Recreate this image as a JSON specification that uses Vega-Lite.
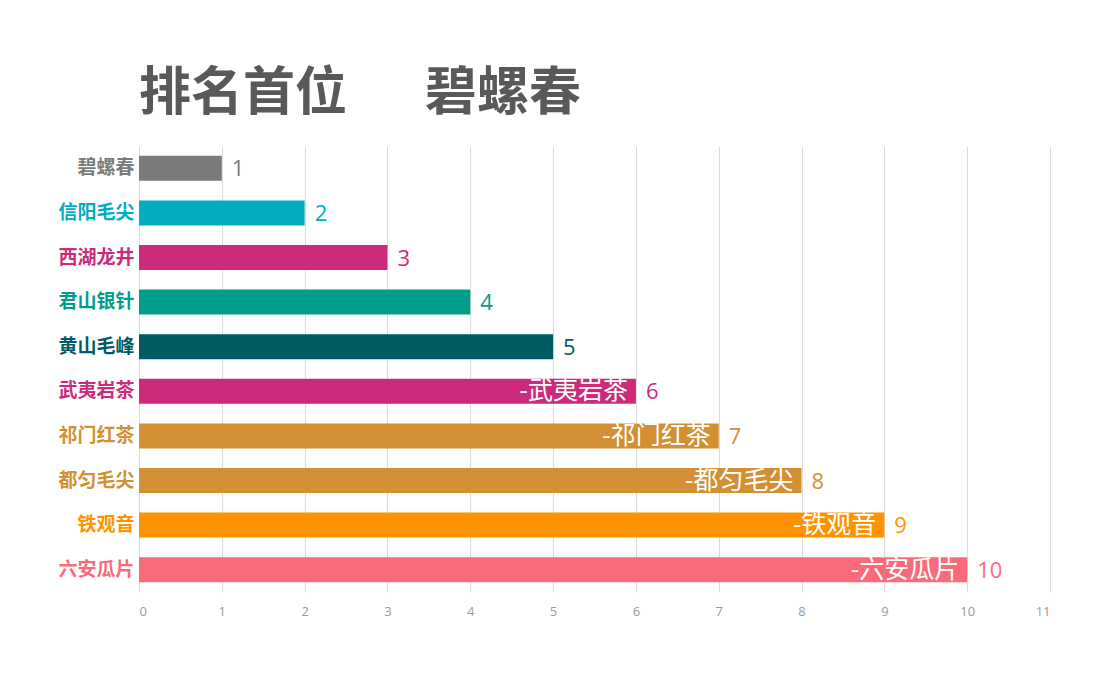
{
  "$schema": "https://vega.github.io/schema/vega-lite/v6.json",
  "width": 911,
  "height": 446,
  "autosize": {"type": "none"},
  "padding": {"left": 139, "top": 146, "right": 48, "bottom": 94},
  "background": "white",
  "title": {
    "text": "排名首位　\u2002碧螺春",
    "anchor": "start",
    "frame": "group",
    "font": "Noto Sans CJK SC",
    "fontSize": 52,
    "fontWeight": "bold",
    "color": "#595959",
    "offset": 25
  },
  "config": {"view": {"stroke": null}},
  "data": {
    "values": [
      {"name": "碧螺春", "value": 1, "tag": ""},
      {"name": "信阳毛尖", "value": 2, "tag": ""},
      {"name": "西湖龙井", "value": 3, "tag": ""},
      {"name": "君山银针", "value": 4, "tag": ""},
      {"name": "黄山毛峰", "value": 5, "tag": ""},
      {"name": "武夷岩茶", "value": 6, "tag": "-武夷岩茶"},
      {"name": "祁门红茶", "value": 7, "tag": "-祁门红茶"},
      {"name": "都匀毛尖", "value": 8, "tag": "-都匀毛尖"},
      {"name": "铁观音", "value": 9, "tag": "-铁观音"},
      {"name": "六安瓜片", "value": 10, "tag": "-六安瓜片"}
    ]
  },
  "encoding": {
    "y": {
      "field": "name",
      "type": "nominal",
      "sort": null,
      "title": null,
      "scale": {"paddingInner": 0.44, "paddingOuter": 0.22},
      "axis": {
        "domain": false,
        "ticks": false,
        "labelFont": "Noto Sans CJK SC",
        "labelFontWeight": "bold",
        "labelFontSize": 19,
        "labelPadding": 5,
        "labelColor": {"expr": "scale('color', datum.value)"}
      }
    },
    "x": {
      "field": "value",
      "type": "quantitative",
      "title": null,
      "scale": {"domain": [0, 11], "nice": false},
      "axis": {
        "values": [0, 1, 2, 3, 4, 5, 6, 7, 8, 9, 10, 11],
        "domain": false,
        "ticks": false,
        "gridColor": "#dcdcdc",
        "gridWidth": 1,
        "labelColor": "#9a9a9a",
        "labelFont": "Open Sans",
        "labelFontSize": 13,
        "labelPadding": 13
      }
    },
    "color": {
      "field": "name",
      "type": "nominal",
      "legend": null,
      "scale": {
        "domain": ["碧螺春", "信阳毛尖", "西湖龙井", "君山银针", "黄山毛峰", "武夷岩茶", "祁门红茶", "都匀毛尖", "铁观音", "六安瓜片"],
        "range": ["#7b7b7b", "#00adc1", "#cc2a7a", "#009e8a", "#005b64", "#cc2a7a", "#d39033", "#d39033", "#ff9200", "#f96b7b"]
      }
    }
  },
  "layer": [
    {"mark": {"type": "bar"}},
    {
      "mark": {"type": "text", "align": "left", "baseline": "middle", "dx": 10, "dy": 1, "font": "Open Sans", "fontSize": 22},
      "encoding": {"text": {"field": "value", "type": "quantitative"}}
    },
    {
      "mark": {"type": "text", "align": "right", "baseline": "middle", "dx": -8, "dy": 0, "font": "Noto Sans CJK SC", "fontSize": 25},
      "encoding": {"text": {"field": "tag", "type": "nominal"}, "color": {"value": "white"}}
    }
  ]
}
